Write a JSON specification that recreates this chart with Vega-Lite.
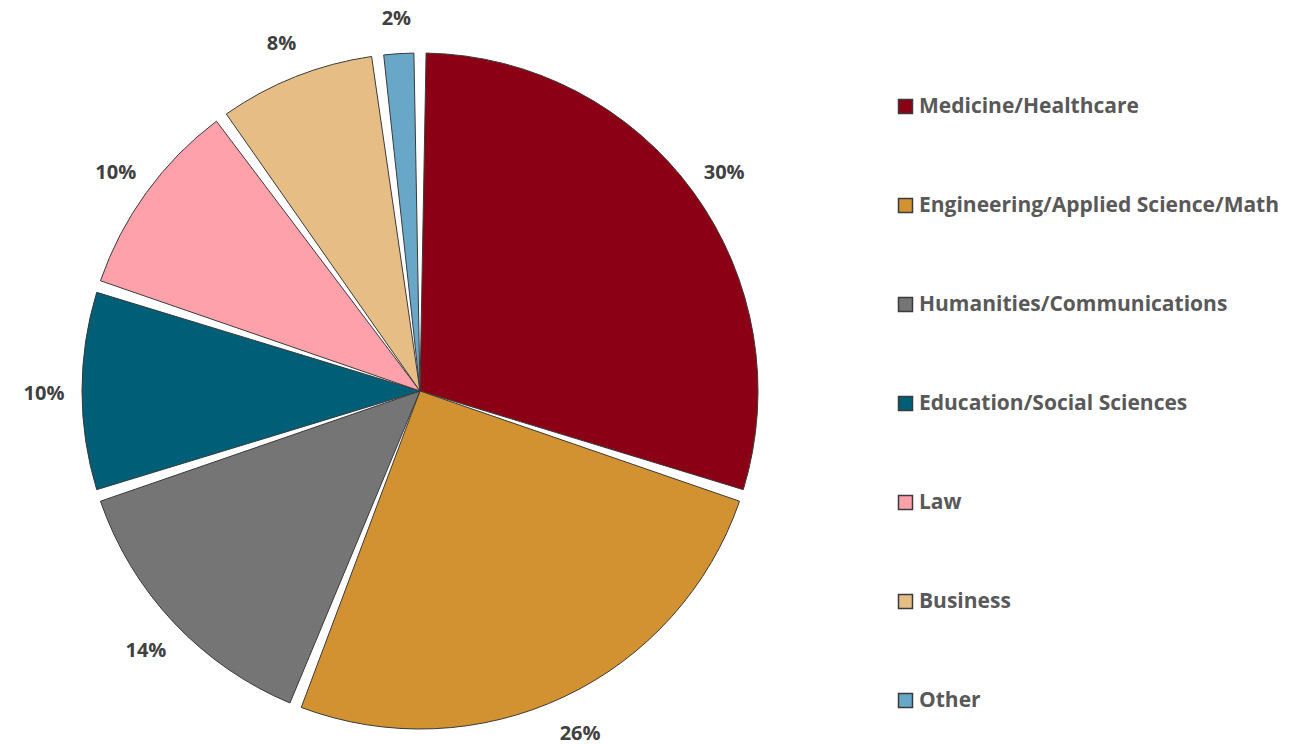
{
  "$schema": "https://vega.github.io/schema/vega-lite/v6.json",
  "width": 840,
  "height": 700,
  "padding": {"top": 8, "left": 0, "right": 0, "bottom": 0},
  "background": "white",
  "data": {
    "values": [
      {"category": "Medicine/Healthcare", "value": 30, "o": 1, "label": "30%"},
      {"category": "Engineering/Applied Science/Math", "value": 26, "o": 2, "label": "26%"},
      {"category": "Humanities/Communications", "value": 14, "o": 3, "label": "14%"},
      {"category": "Education/Social Sciences", "value": 10, "o": 4, "label": "10%"},
      {"category": "Law", "value": 10, "o": 5, "label": "10%"},
      {"category": "Business", "value": 8, "o": 6, "label": "8%"},
      {"category": "Other", "value": 2, "o": 7, "label": "2%"}
    ]
  },
  "encoding": {
    "theta": {"field": "value", "type": "quantitative", "stack": true},
    "order": {"field": "o", "type": "quantitative"}
  },
  "layer": [
    {
      "mark": {"type": "arc", "outerRadius": 338, "padAngle": 0.036, "stroke": "#3a3a3a", "strokeWidth": 1},
      "encoding": {
        "color": {
          "field": "category",
          "type": "nominal",
          "scale": {
            "domain": ["Medicine/Healthcare", "Engineering/Applied Science/Math", "Humanities/Communications", "Education/Social Sciences", "Law", "Business", "Other"],
            "range": ["#8B0015", "#D29232", "#757575", "#005F76", "#FFA1AB", "#E6BE85", "#69A7C8"]
          },
          "legend": {
            "title": null,
            "orient": "none",
            "legendX": 895,
            "legendY": 55,
            "symbolType": "square",
            "symbolSize": 196,
            "symbolStrokeColor": "#3a3a3a",
            "symbolStrokeWidth": 1.5,
            "symbolOpacity": 1,
            "labelFont": "Open Sans",
            "labelFontWeight": "bold",
            "labelFontSize": 21,
            "labelColor": "#595959",
            "labelOffset": 3,
            "labelLimit": 500,
            "rowPadding": 77
          }
        }
      }
    },
    {
      "mark": {"type": "text", "radius": 376, "dy": 3, "font": "Open Sans", "fontWeight": "bold", "fontSize": 20, "color": "#404040"},
      "encoding": {
        "text": {"field": "label", "type": "nominal"}
      }
    }
  ],
  "config": {"view": {"stroke": null}}
}
